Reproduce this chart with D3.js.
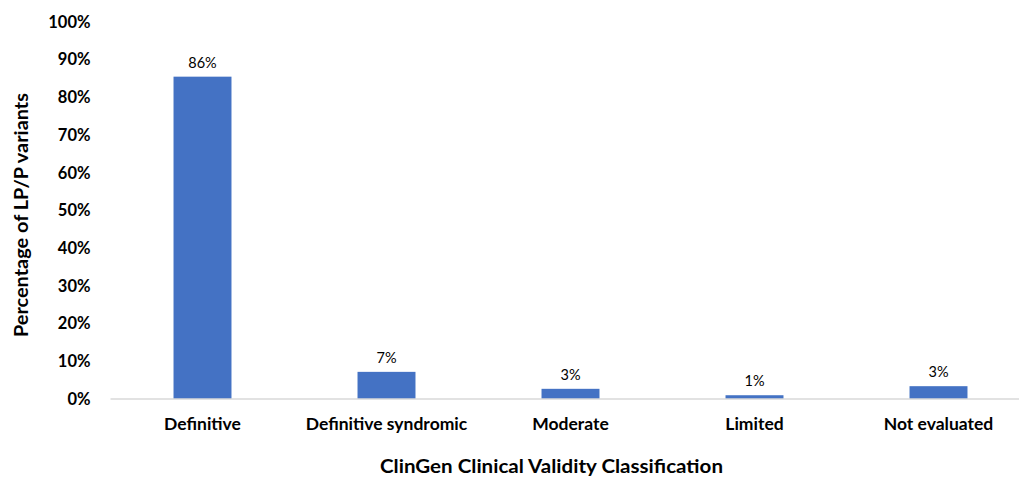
<!DOCTYPE html>
<html>
<head>
<meta charset="utf-8">
<script src="https://cdn.jsdelivr.net/npm/d3@7"></script>
<style>
  html, body { margin: 0; padding: 0; background: #ffffff; }
  svg { display: block; font-family: Lato, "Liberation Sans", sans-serif; }
</style>
</head>
<body>
<svg id="chart" width="1019" height="480"></svg>
<script>
const categories = ["Definitive", "Definitive syndromic", "Moderate", "Limited", "Not evaluated"];
const values = [85.5, 7.2, 2.7, 1.0, 3.4];
const valueLabels = ["86%", "7%", "3%", "1%", "3%"];
const yTicks = [0, 10, 20, 30, 40, 50, 60, 70, 80, 90, 100];
const xTitle = "ClinGen Clinical Validity Classification";
const yTitle = "Percentage of LP/P variants";

const svg = d3.select("#chart");
const W = 1019, H = 480;
const margin = { left: 110.5, right: -11.5, top: 22, bottom: 81 };

const x = d3.scaleBand()
  .domain(categories)
  .range([margin.left, W - margin.right])
  .paddingInner(0.685)
  .paddingOuter(0.3425);

const y = d3.scaleLinear()
  .domain([0, 100])
  .range([H - margin.bottom, margin.top]);

// bars
svg.append("g").selectAll("rect")
  .data(categories)
  .join("rect")
  .attr("x", (d) => x(d))
  .attr("width", x.bandwidth())
  .attr("y", (d, i) => y(values[i]))
  .attr("height", (d, i) => y(0) - y(values[i]))
  .attr("fill", "#4472c4");

// baseline axis
const xAxis = d3.axisBottom(x).tickSize(0).tickPadding(19);
const gx = svg.append("g")
  .attr("transform", `translate(0,${y(0)})`)
  .call(xAxis);
gx.select(".domain").attr("stroke", "#d9d9d9").attr("stroke-width", 1.5)
  .attr("d", `M${x.range()[0]},0H${W}`);
gx.selectAll("text")
  .attr("font-size", 17.5)
  .attr("font-weight", "bold")
  .attr("fill", "#000")
  .attr("font-family", "Lato, sans-serif");

// y axis (labels only)
const yAxis = d3.axisLeft(y).tickValues(yTicks).tickSize(0).tickPadding(20)
  .tickFormat((d) => d + "%");
const gy = svg.append("g")
  .attr("transform", `translate(${margin.left},0)`)
  .call(yAxis);
gy.select(".domain").remove();
gy.selectAll("text")
  .attr("font-size", 16.5)
  .attr("font-weight", "bold")
  .attr("fill", "#000")
  .attr("font-family", "Lato, sans-serif");

// value labels
svg.append("g").selectAll("text")
  .data(categories)
  .join("text")
  .attr("x", (d) => x(d) + x.bandwidth() / 2)
  .attr("y", (d, i) => y(values[i]) - 9)
  .attr("text-anchor", "middle")
  .attr("font-size", 14.5)
  .attr("fill", "#000")
  .text((d, i) => valueLabels[i]);

// axis titles
svg.append("text")
  .attr("x", 551.5)
  .attr("y", 473)
  .attr("text-anchor", "middle")
  .attr("font-size", 18)
  .attr("font-weight", "bold")
  .attr("fill", "#000")
  .attr("textLength", 343)
  .attr("lengthAdjust", "spacingAndGlyphs")
  .text(xTitle);

svg.append("text")
  .attr("transform", "translate(28,215) rotate(-90)")
  .attr("text-anchor", "middle")
  .attr("font-size", 18)
  .attr("font-weight", "bold")
  .attr("fill", "#000")
  .attr("textLength", 244)
  .attr("lengthAdjust", "spacingAndGlyphs")
  .text(yTitle);
</script>
</body>
</html>
